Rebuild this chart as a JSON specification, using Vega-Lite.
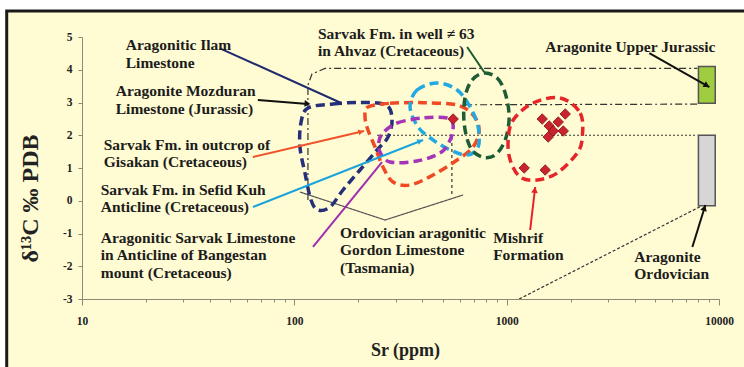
{
  "$schema": "https://vega.github.io/schema/vega-lite/v6.json",
  "width": 637,
  "height": 262,
  "autosize": {"type": "none"},
  "padding": {"left": 82, "top": 37, "right": 25, "bottom": 68},
  "background": "white",
  "config": {"view": {"stroke": null}, "font": "Liberation Serif"},
  "resolve": {"scale": {"color": "independent", "fill": "independent", "strokeDash": "independent"}},
  "datasets": {
    "frame": [{"sr": 4.42, "sr2": 24000, "d": 5.794, "d2": -6.1}],
    "guides": [
      {"id": "gordon", "ord": 1, "sr": 115.9, "d": 0.023},
      {"id": "gordon", "ord": 2, "sr": 115.9, "d": 3.534},
      {"id": "gordon", "ord": 3, "sr": 121.1, "d": 3.87},
      {"id": "gordon", "ord": 4, "sr": 139.4, "d": 4.04},
      {"id": "gordon", "ord": 5, "sr": 7907, "d": 4.04},
      {"id": "y3", "ord": 1, "sr": 637.3, "d": 2.93},
      {"id": "y3", "ord": 2, "sr": 7907, "d": 2.95},
      {"id": "y2", "ord": 1, "sr": 245.2, "d": 2.0},
      {"id": "y2", "ord": 2, "sr": 7907, "d": 2.0},
      {"id": "v450", "ord": 1, "sr": 552.1, "d": 1.947},
      {"id": "v450", "ord": 2, "sr": 552.1, "d": 0.115},
      {"id": "bracket", "ord": 1, "sr": 106.3, "d": 0.267},
      {"id": "bracket", "ord": 2, "sr": 267.4, "d": -0.588},
      {"id": "bracket", "ord": 3, "sr": 623.7, "d": 0.176},
      {"id": "diag", "ord": 1, "sr": 1145, "d": -3.0},
      {"id": "diag", "ord": 2, "sr": 8440, "d": -0.13}
    ],
    "boxes": [
      {"id": "jur", "sr": 8000, "sr2": 9600, "d": 2.98, "d2": 4.1},
      {"id": "ord", "sr": 8000, "sr2": 9600, "d": 2.0, "d2": -0.15}
    ],
    "shapes": [
      {"grp": "ilam", "ord": 1, "sr": 115.9, "d": 2.832},
      {"grp": "ilam", "ord": 2, "sr": 152.1, "d": 2.954},
      {"grp": "ilam", "ord": 3, "sr": 203.8, "d": 3.0},
      {"grp": "ilam", "ord": 4, "sr": 270.4, "d": 2.924},
      {"grp": "ilam", "ord": 5, "sr": 288.5, "d": 2.466},
      {"grp": "ilam", "ord": 6, "sr": 276.3, "d": 1.947},
      {"grp": "ilam", "ord": 7, "sr": 245.2, "d": 1.55},
      {"grp": "ilam", "ord": 8, "sr": 203.8, "d": 0.939},
      {"grp": "ilam", "ord": 9, "sr": 169.5, "d": 0.328},
      {"grp": "ilam", "ord": 10, "sr": 147.2, "d": -0.191},
      {"grp": "ilam", "ord": 11, "sr": 129.2, "d": -0.282},
      {"grp": "ilam", "ord": 12, "sr": 119.8, "d": 0.023},
      {"grp": "ilam", "ord": 13, "sr": 112.2, "d": 0.847},
      {"grp": "ilam", "ord": 14, "sr": 106.3, "d": 1.641},
      {"grp": "ilam", "ord": 15, "sr": 107.4, "d": 2.374},
      {"grp": "gisakan", "ord": 1, "sr": 222.3, "d": 2.863},
      {"grp": "gisakan", "ord": 2, "sr": 282.3, "d": 2.976},
      {"grp": "gisakan", "ord": 3, "sr": 404.0, "d": 2.994},
      {"grp": "gisakan", "ord": 4, "sr": 584.3, "d": 2.924},
      {"grp": "gisakan", "ord": 5, "sr": 695.0, "d": 2.618},
      {"grp": "gisakan", "ord": 6, "sr": 741.9, "d": 2.16},
      {"grp": "gisakan", "ord": 7, "sr": 695.0, "d": 1.641},
      {"grp": "gisakan", "ord": 8, "sr": 584.3, "d": 1.244},
      {"grp": "gisakan", "ord": 9, "sr": 450.4, "d": 0.786},
      {"grp": "gisakan", "ord": 10, "sr": 350.8, "d": 0.481},
      {"grp": "gisakan", "ord": 11, "sr": 291.6, "d": 0.573},
      {"grp": "gisakan", "ord": 12, "sr": 261.6, "d": 1.031},
      {"grp": "gisakan", "ord": 13, "sr": 239.9, "d": 1.641},
      {"grp": "gisakan", "ord": 14, "sr": 222.3, "d": 2.16},
      {"grp": "gisakan", "ord": 15, "sr": 215.2, "d": 2.557},
      {"grp": "sefid", "ord": 1, "sr": 350.8, "d": 2.863},
      {"grp": "sefid", "ord": 2, "sr": 378.4, "d": 3.382},
      {"grp": "sefid", "ord": 3, "sr": 470.2, "d": 3.595},
      {"grp": "sefid", "ord": 4, "sr": 584.3, "d": 3.382},
      {"grp": "sefid", "ord": 5, "sr": 672.9, "d": 2.863},
      {"grp": "sefid", "ord": 6, "sr": 733.9, "d": 2.252},
      {"grp": "sefid", "ord": 7, "sr": 733.9, "d": 1.641},
      {"grp": "sefid", "ord": 8, "sr": 651.3, "d": 1.397},
      {"grp": "sefid", "ord": 9, "sr": 541.5, "d": 1.55},
      {"grp": "sefid", "ord": 10, "sr": 450.4, "d": 1.855},
      {"grp": "sefid", "ord": 11, "sr": 382.6, "d": 2.252},
      {"grp": "bangestan", "ord": 1, "sr": 261.6, "d": 2.069},
      {"grp": "bangestan", "ord": 2, "sr": 304.6, "d": 2.374},
      {"grp": "bangestan", "ord": 3, "sr": 404.0, "d": 2.527},
      {"grp": "bangestan", "ord": 4, "sr": 524.2, "d": 2.527},
      {"grp": "bangestan", "ord": 5, "sr": 559.5, "d": 2.313},
      {"grp": "bangestan", "ord": 6, "sr": 541.5, "d": 1.855},
      {"grp": "bangestan", "ord": 7, "sr": 485.9, "d": 1.458},
      {"grp": "bangestan", "ord": 8, "sr": 378.4, "d": 1.214},
      {"grp": "bangestan", "ord": 9, "sr": 282.3, "d": 1.183},
      {"grp": "bangestan", "ord": 10, "sr": 253.3, "d": 1.489},
      {"grp": "bangestan", "ord": 11, "sr": 250.6, "d": 1.824},
      {"grp": "ahvaz", "ord": 1, "sr": 783.3, "d": 3.901},
      {"grp": "ahvaz", "ord": 2, "sr": 902.1, "d": 3.748},
      {"grp": "ahvaz", "ord": 3, "sr": 983.8, "d": 3.29},
      {"grp": "ahvaz", "ord": 4, "sr": 1027.5, "d": 2.557},
      {"grp": "ahvaz", "ord": 5, "sr": 983.8, "d": 1.855},
      {"grp": "ahvaz", "ord": 6, "sr": 882.8, "d": 1.397},
      {"grp": "ahvaz", "ord": 7, "sr": 766.5, "d": 1.336},
      {"grp": "ahvaz", "ord": 8, "sr": 672.9, "d": 1.641},
      {"grp": "ahvaz", "ord": 9, "sr": 630.4, "d": 2.374},
      {"grp": "ahvaz", "ord": 10, "sr": 637.3, "d": 3.168},
      {"grp": "ahvaz", "ord": 11, "sr": 687.7, "d": 3.687},
      {"grp": "mishrif", "ord": 1, "sr": 1787, "d": 3.137},
      {"grp": "mishrif", "ord": 2, "sr": 2221, "d": 2.679},
      {"grp": "mishrif", "ord": 3, "sr": 2270, "d": 1.947},
      {"grp": "mishrif", "ord": 4, "sr": 2149, "d": 1.458},
      {"grp": "mishrif", "ord": 5, "sr": 1730, "d": 0.847},
      {"grp": "mishrif", "ord": 6, "sr": 1393, "d": 0.634},
      {"grp": "mishrif", "ord": 7, "sr": 1158, "d": 0.725},
      {"grp": "mishrif", "ord": 8, "sr": 1039, "d": 1.244},
      {"grp": "mishrif", "ord": 9, "sr": 1016.5, "d": 1.855},
      {"grp": "mishrif", "ord": 10, "sr": 1073, "d": 2.466},
      {"grp": "mishrif", "ord": 11, "sr": 1333, "d": 2.985}
    ],
    "arrows": [
      {"id": "ilam", "sr": 44.6, "d": 4.655, "sr2": 167.1, "d2": 2.976},
      {"id": "mozduran", "sr": 67.35, "d": 3.076, "sr2": 115.9, "d2": 2.954},
      {"id": "gisakan", "sr": 63.8, "d": 1.336, "sr2": 212.9, "d2": 2.13},
      {"id": "sefid", "sr": 63.8, "d": -0.191, "sr2": 404.0, "d2": 1.855},
      {"id": "bangestan", "sr": 122.4, "d": -1.412, "sr2": 258.8, "d2": 1.183},
      {"id": "ahvaz", "sr": 651.3, "d": 4.695, "sr2": 783.3, "d2": 3.931},
      {"id": "jurassic", "sr": 4697, "d": 4.511, "sr2": 9010, "d2": 3.473},
      {"id": "mishrif", "sr": 1290, "d": -0.893, "sr2": 1363, "d2": 0.42},
      {"id": "ordovician", "sr": 7492, "d": -1.412, "sr2": 8628, "d2": -0.13}
    ],
    "heads": [
      {"id": "mozduran", "sr": 115.3, "d": 2.963},
      {"id": "jurassic", "sr": 8760, "d": 3.519},
      {"id": "mishrif", "sr": 1357, "d": 0.328},
      {"id": "ordovician", "sr": 8535, "d": -0.221},
      {"id": "gisakan", "sr": 206.1, "d": 2.108},
      {"id": "sefid", "sr": 391.0, "d": 1.824}
    ],
    "pts": [
      {"sr": 1470, "d": 2.496},
      {"sr": 1586, "d": 2.282},
      {"sr": 1887, "d": 2.649},
      {"sr": 1749, "d": 2.405},
      {"sr": 1657, "d": 2.13},
      {"sr": 1847, "d": 2.13},
      {"sr": 1569, "d": 1.947},
      {"sr": 1209, "d": 1.0},
      {"sr": 1519, "d": 0.939},
      {"sr": 559.5, "d": 2.496}
    ],
    "labels": [
      {"t": "Aragonitic Ilam\nLimestone", "sr": 16.07, "d": 4.603},
      {"t": "Aragonite Mozduran\nLimestone (Jurassic)", "sr": 14.42, "d": 3.198},
      {"t": "Sarvak Fm. in outcrop  of\nGisakan (Cretaceous)", "sr": 12.66, "d": 1.55},
      {"t": "Sarvak Fm. in Sefid Kuh\nAnticline (Cretaceous)", "sr": 12.25, "d": 0.176},
      {"t": "Aragonitic Sarvak Limestone\nin Anticline  of Bangestan\nmount (Cretaceous)", "sr": 12.25, "d": -1.29},
      {"t": "Sarvak Fm. in well ≠  63\nin Ahvaz (Cretaceous)", "sr": 129.2, "d": 4.939},
      {"t": "Aragonite Upper Jurassic", "sr": 1519, "d": 4.542},
      {"t": "Ordovician aragonitic\nGordon Limestone\n(Tasmania)", "sr": 164.1, "d": -1.137},
      {"t": "Mishrif\nFormation", "sr": 863.6, "d": -1.29},
      {"t": "Aragonite\nOrdovician", "sr": 3991, "d": -1.87}
    ]
  },
  "encoding": {
    "x": {
      "field": "sr", "type": "quantitative",
      "scale": {"type": "log", "domain": [10, 10000], "nice": false},
      "axis": {
        "title": "Sr (ppm)",
        "values": [10, 20, 30, 40, 50, 60, 70, 80, 90, 100, 200, 300, 400, 500, 600, 700, 800, 900, 1000, 2000, 3000, 4000, 5000, 6000, 7000, 8000, 9000, 10000],
        "format": "d",
        "labelExpr": "(datum.value==10||datum.value==100||datum.value==1000||datum.value==10000) ? datum.label : ''",
        "grid": false,
        "domainColor": "#8a8a78", "tickColor": "#8a8a78",
        "tickSize": {"condition": {"test": "datum.value==10||datum.value==100||datum.value==1000||datum.value==10000", "value": 6}, "value": 3},
        "labelFont": "Liberation Serif", "labelFontWeight": "bold", "labelFontSize": 11.5, "labelColor": "#222",
        "labelPadding": 10, "labelOverlap": false, "labelBound": false, "labelFlush": false,
        "titleFont": "Liberation Serif", "titleFontWeight": "bold", "titleFontSize": 18, "titleColor": "#222",
        "titleX": 323, "titleY": 51, "titleAlign": "center", "titleBaseline": "middle",
        "zindex": 1
      }
    },
    "y": {
      "field": "d", "type": "quantitative",
      "scale": {"domain": [-3, 5], "nice": false, "zero": false},
      "axis": {
        "title": "δ¹³C ‰ PDB",
        "values": [-3, -2, -1, 0, 1, 2, 3, 4, 5],
        "labelExpr": "datum.value + ''",
        "grid": false,
        "domainColor": "#8a8a78", "tickColor": "#8a8a78", "tickSize": 4,
        "labelFont": "Liberation Serif", "labelFontWeight": "bold", "labelFontSize": 11.5, "labelColor": "#222",
        "labelPadding": 6,
        "titleFont": "Liberation Serif", "titleFontWeight": "bold", "titleFontSize": 24, "titleColor": "#222",
        "titleX": -52, "titleY": 161, "titleAngle": -90, "titleAlign": "center", "titleBaseline": "middle",
        "zindex": 1
      }
    }
  },
  "layer": [
    {
      "data": {"name": "frame"},
      "mark": {"type": "rect", "fill": "#FFFBD2", "stroke": "#1a1a1a", "strokeWidth": 3},
      "encoding": {"x2": {"field": "sr2"}, "y2": {"field": "d2"}}
    },
    {
      "data": {"name": "guides"},
      "mark": {"type": "line", "strokeWidth": 1.2},
      "encoding": {
        "order": {"field": "ord", "type": "quantitative"},
        "detail": {"field": "id"},
        "color": {"field": "id", "type": "nominal", "legend": null,
          "scale": {"domain": ["gordon", "y3", "y2", "v450", "bracket", "diag"], "range": ["#333333", "#333333", "#333333", "#333333", "#555555", "#333333"]}},
        "strokeDash": {"field": "id", "type": "nominal", "legend": null,
          "scale": {"domain": ["gordon", "y3", "y2", "v450", "bracket", "diag"], "range": [[7, 3, 2, 3], [7, 3, 2, 3], [2, 2], [3, 3], [1, 0], [3, 2]]}}
      }
    },
    {
      "data": {"name": "boxes"},
      "mark": {"type": "rect", "stroke": "#555555", "strokeWidth": 1.5},
      "encoding": {
        "x2": {"field": "sr2"}, "y2": {"field": "d2"},
        "fill": {"field": "id", "type": "nominal", "legend": null,
          "scale": {"domain": ["jur", "ord"], "range": ["#9fcd3f", "#d6d6d6"]}}
      }
    },
    {
      "data": {"name": "shapes"},
      "mark": {"type": "line", "interpolate": "cardinal-closed", "strokeWidth": 3.5, "strokeDash": [9, 5]},
      "encoding": {
        "order": {"field": "ord", "type": "quantitative"},
        "color": {"field": "grp", "type": "nominal", "legend": null,
          "scale": {"domain": ["ilam", "gisakan", "sefid", "bangestan", "ahvaz", "mishrif"], "range": ["#25307a", "#f04a25", "#22a9e2", "#a535b6", "#1e5c35", "#e6252b"]}}
      }
    },
    {
      "data": {"name": "arrows"},
      "mark": {"type": "rule", "strokeWidth": 2},
      "encoding": {
        "x2": {"field": "sr2"}, "y2": {"field": "d2"},
        "color": {"field": "id", "type": "nominal", "legend": null,
          "scale": {"domain": ["ilam", "mozduran", "gisakan", "sefid", "bangestan", "ahvaz", "jurassic", "mishrif", "ordovician"],
                    "range": ["#1f2b6e", "#111111", "#f0522a", "#1aa3dc", "#a02fb0", "#1d5a30", "#111111", "#e8202a", "#111111"]}}
      }
    },
    {
      "data": {"name": "heads"},
      "transform": [{"filter": "datum.id == 'mozduran'"}],
      "mark": {"type": "point", "shape": "triangle-up", "filled": true, "color": "#111111", "size": 45, "angle": 95, "opacity": 1}
    },
    {
      "data": {"name": "heads"},
      "transform": [{"filter": "datum.id == 'jurassic'"}],
      "mark": {"type": "point", "shape": "triangle-up", "filled": true, "color": "#111111", "size": 45, "angle": 120, "opacity": 1}
    },
    {
      "data": {"name": "heads"},
      "transform": [{"filter": "datum.id == 'mishrif'"}],
      "mark": {"type": "point", "shape": "triangle-up", "filled": true, "color": "#e8202a", "size": 45, "angle": 7, "opacity": 1}
    },
    {
      "data": {"name": "heads"},
      "transform": [{"filter": "datum.id == 'ordovician'"}],
      "mark": {"type": "point", "shape": "triangle-up", "filled": true, "color": "#111111", "size": 45, "angle": 17, "opacity": 1}
    },
    {
      "data": {"name": "heads"},
      "transform": [{"filter": "datum.id == 'gisakan'"}],
      "mark": {"type": "point", "shape": "triangle-up", "filled": true, "color": "#f0522a", "size": 35, "angle": 77, "opacity": 1}
    },
    {
      "data": {"name": "heads"},
      "transform": [{"filter": "datum.id == 'sefid'"}],
      "mark": {"type": "point", "shape": "triangle-up", "filled": true, "color": "#1aa3dc", "size": 35, "angle": 68, "opacity": 1}
    },
    {
      "data": {"name": "pts"},
      "mark": {"type": "point", "shape": "diamond", "filled": true, "fill": "#c9242e", "stroke": "#7d1218", "strokeWidth": 0.8, "size": 110, "opacity": 1}
    },
    {
      "data": {"name": "labels"},
      "mark": {"type": "text", "align": "left", "baseline": "alphabetic", "lineBreak": "\n", "lineHeight": 17.5,
               "font": "Liberation Serif", "fontWeight": "bold", "fontSize": 15.5, "color": "#1c1c1c"},
      "encoding": {"text": {"field": "t"}}
    }
  ]
}
